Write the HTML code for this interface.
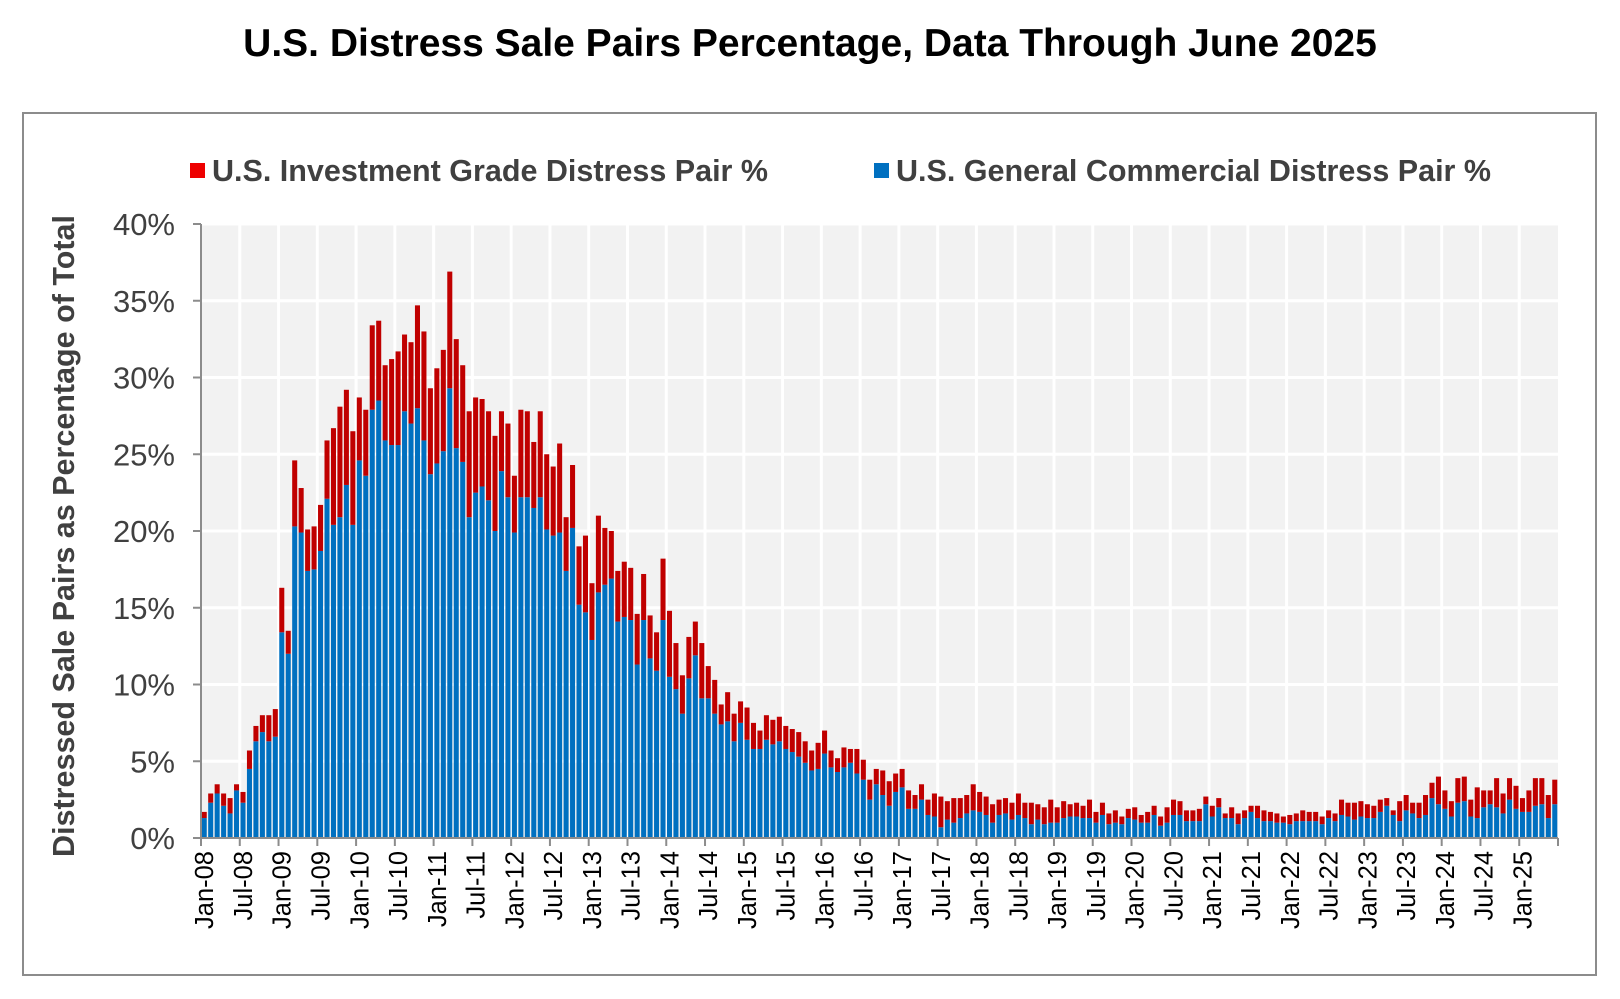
<!DOCTYPE html>
<html><head><meta charset="utf-8"><style>
html,body{margin:0;padding:0;background:#fff;}
svg{display:block;font-family:"Liberation Sans",Arial,sans-serif;}
</style></head><body>
<svg id="chart" width="1620" height="999" viewBox="0 0 1620 999">
<rect x="0" y="0" width="1620" height="999" fill="#fff"/>
<text x="810" y="56" text-anchor="middle" font-size="39" font-weight="bold" fill="#000">U.S. Distress Sale Pairs Percentage, Data Through June 2025</text>
<rect x="23" y="113" width="1573" height="862" fill="none" stroke="#8c8c8c" stroke-width="2"/>
<g>
<g>
<rect x="190" y="163" width="15" height="15" fill="#ee0000"/>
<text x="212" y="181" font-size="30.5" font-weight="bold" fill="#404040">U.S. Investment Grade Distress Pair %</text>
</g>
<g>
<rect x="874" y="163" width="15" height="15" fill="#0070c0"/>
<text x="896" y="181" font-size="30.5" font-weight="bold" fill="#404040">U.S. General Commercial Distress Pair %</text>
</g>
</g>
<text transform="translate(74,536) rotate(-90)" text-anchor="middle" font-size="30.5" font-weight="bold" fill="#404040">Distressed Sale Pairs as Percentage of Total</text>
<g id="plot"></g>
</svg>
<script>
const totalPct = [1.7,2.9,3.5,2.9,2.6,3.5,3.0,5.7,7.3,8.0,8.0,8.4,16.3,13.5,24.6,22.8,20.1,20.3,21.7,25.9,26.7,28.1,29.2,26.5,28.7,27.9,33.4,33.7,30.8,31.2,31.7,32.8,32.3,34.7,33.0,29.3,30.6,31.8,36.9,32.5,30.8,27.8,28.7,28.6,27.8,26.2,27.8,27.0,23.6,27.9,
27.8,25.8,27.8,25.0,24.2,25.7,20.9,24.3,19.0,19.7,16.6,21.0,20.2,20.0,17.4,18.0,17.6,14.6,17.2,14.5,13.4,18.2,14.8,12.7,10.6,13.1,14.1,12.7,11.2,10.3,8.7,9.5,8.1,8.9,8.5,7.5,7.0,8.0,7.7,7.9,7.3,7.1,6.9,6.3,5.7,6.2,7.0,5.7,5.2,5.9,
5.8,5.8,5.1,3.8,4.5,4.4,3.7,4.2,4.5,3.1,2.8,3.5,2.5,2.9,2.7,2.4,2.6,2.6,2.8,3.5,3.0,2.7,2.2,2.5,2.6,2.3,2.9,2.3,2.3,2.2,2.0,2.5,2.0,2.4,2.2,2.3,2.1,2.5,1.7,2.3,1.6,1.8,1.4,1.9,2.0,1.5,1.7,2.1,1.4,2.0,2.5,2.4,1.8,1.8,1.9,2.7,
2.1,2.6,1.6,2.0,1.6,1.8,2.1,2.1,1.8,1.7,1.6,1.4,1.5,1.6,1.8,1.7,1.7,1.4,1.8,1.6,2.5,2.3,2.3,2.4,2.2,2.1,2.5,2.6,1.8,2.4,2.8,2.3,2.3,2.8,3.6,4.0,3.1,2.4,3.9,4.0,2.5,3.3,3.1,3.1,3.9,2.9,3.9,3.4,2.6,3.1,3.9,3.9,2.8,3.8];
const generalPct = [1.3,2.3,2.9,2.1,1.6,3.1,2.3,4.5,6.3,6.9,6.3,6.6,13.4,12.0,20.3,19.9,17.4,17.5,18.7,22.1,20.4,20.9,23.0,20.4,24.6,23.6,27.9,28.5,25.9,25.6,25.6,27.8,27.0,28.0,25.9,23.7,24.4,25.2,29.3,25.4,24.5,20.9,22.5,22.9,22.0,20.0,23.9,22.2,19.9,22.2,
22.2,21.5,22.2,20.1,19.7,19.9,17.4,20.2,15.2,14.7,12.9,16.0,16.5,16.9,14.1,14.4,14.2,11.3,14.2,11.7,10.9,14.2,10.5,9.7,8.1,10.4,11.9,9.1,9.1,8.1,7.4,7.6,6.3,7.5,6.4,5.8,5.8,6.4,6.1,6.3,5.8,5.6,5.3,4.9,4.4,4.5,5.5,4.6,4.3,4.6,
4.9,4.2,3.8,2.5,3.5,2.8,2.1,3.0,3.3,1.9,1.9,2.5,1.5,1.4,0.7,1.2,1.0,1.3,1.6,1.8,1.7,1.5,1.0,1.5,1.6,1.2,1.5,1.3,0.9,1.2,0.9,1.0,1.0,1.3,1.4,1.4,1.3,1.3,1.0,1.5,0.9,1.0,0.9,1.3,1.2,1.0,1.0,1.5,0.8,1.0,1.5,1.5,1.1,1.1,1.1,2.2,
1.4,2.0,1.3,1.3,0.9,1.3,1.7,1.3,1.1,1.1,1.0,1.0,0.9,1.1,1.1,1.1,1.1,0.9,1.3,1.1,1.5,1.4,1.2,1.4,1.3,1.3,1.7,2.1,1.5,1.1,1.8,1.6,1.3,1.5,2.6,2.2,1.9,1.4,2.3,2.4,1.4,1.3,2.0,2.2,2.0,1.6,2.5,1.9,1.7,1.7,2.1,2.2,1.3,2.2];
const yTicks = [0,5,10,15,20,25,30,35,40];
const yTickLabels = ["0%","5%","10%","15%","20%","25%","30%","35%","40%"];
const startYear = 2008;
const monthNames = ["Jan","Jul"];

const NS = "http://www.w3.org/2000/svg";
const X0 = 201, X1 = 1558, Y0 = 838, Y1 = 224, YMAX = 40;
const n = totalPct.length;
const step = (X1 - X0) / n;
function xPos(i){ return X0 + i * step; }
function yPos(v){ return Y0 - (v / YMAX) * (Y0 - Y1); }
function mk(tag, attrs){ const e = document.createElementNS(NS, tag); for (const k in attrs) e.setAttribute(k, attrs[k]); return e; }
const plot = document.getElementById('plot');

const bg = mk('rect', {x:X0, y:Y1, width:X1-X0, height:Y0-Y1, fill:'#f2f2f2'});


plot.appendChild(bg);

const grid = mk('g', {});


plot.appendChild(grid);
yTicks.forEach((t, k) => {
  const y = yPos(t);
  if (t > 0) {
    const gl = mk('line', {x1:X0, x2:X1, y1:y, y2:y, stroke:'#fff', 'stroke-width':3});
    
    
    grid.appendChild(gl);
  }
  const tk = mk('line', {x1:X0-8, x2:X0, y1:y, y2:y, stroke:'#8c8c8c', 'stroke-width':2});
  
  
  plot.appendChild(tk);
  const lb = mk('text', {x:X0-26, y:y+11, 'text-anchor':'end', 'font-size':31, fill:'#404040'});
  lb.textContent = yTickLabels[k];
  
  
  plot.appendChild(lb);
});
for (let i = 6; i < n; i += 6) {
  const gx = xPos(i);
  const gl = mk('line', {x1:gx, x2:gx, y1:Y1, y2:Y0, stroke:'#fff', 'stroke-width':3});
  
  
  grid.appendChild(gl);
}

const bars = mk('g', {});


plot.appendChild(bars);
const bw = step * 0.78;
for (let i = 0; i < n; i++) {
  const bx = xPos(i) + (step - bw) / 2;
  const yg = yPos(generalPct[i]), yt = yPos(totalPct[i]);
  const rb = mk('rect', {x:bx, y:yg, width:bw, height:Y0-yg, fill:'#0070c0'});
  
  
  bars.appendChild(rb);
  const rr = mk('rect', {x:bx, y:yt, width:bw, height:Math.max(0, yg-yt), fill:'#c00000'});
  
  
  bars.appendChild(rr);
}

const ax = mk('line', {x1:X0, x2:X0, y1:Y1, y2:Y0, stroke:'#8c8c8c', 'stroke-width':2});


plot.appendChild(ax);
const bx2 = mk('line', {x1:X0, x2:X1, y1:Y0, y2:Y0, stroke:'#8c8c8c', 'stroke-width':2});


plot.appendChild(bx2);

for (let i = 0; i <= n; i += 6) {
  const tx = xPos(i);
  const tk = mk('line', {x1:tx, x2:tx, y1:Y0, y2:Y0+8, stroke:'#8c8c8c', 'stroke-width':2});
  
  
  plot.appendChild(tk);
  if (i < n) {
    const yr = startYear + Math.floor(i / 12);
    const label = monthNames[(i % 12) / 6] + '-' + String(yr % 100).padStart(2, '0');
    const cx = xPos(i) + step / 2;
    const t = mk('text', {transform:'translate(' + cx + ',' + (Y0 + 13) + ') rotate(-90)', 'text-anchor':'end', dy:'0.35em', 'font-size':25.5, fill:'#000'});
    t.textContent = label;
    
    
    plot.appendChild(t);
  }
}
</script>
</body></html>
